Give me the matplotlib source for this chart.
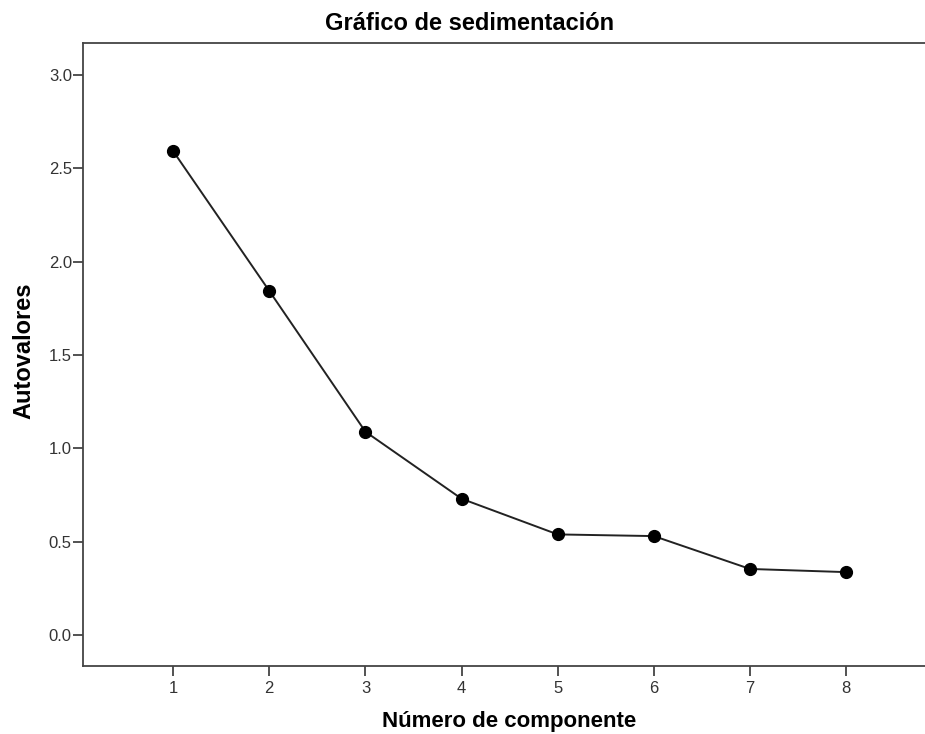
import matplotlib
matplotlib.use('agg')
from matplotlib import pyplot as plt

componentes = [1, 2, 3, 4, 5, 6, 7, 8]
autovalores = [2.592, 1.843, 1.089, 0.730, 0.539, 0.530, 0.354, 0.337]
yticks = [0.0, 0.5, 1.0, 1.5, 2.0, 2.5, 3.0]

plt.rcParams['font.family'] = ['Liberation Sans', 'DejaVu Sans']

fig = plt.figure(figsize=(9.25, 7.34), dpi=100)
ax = fig.add_axes([0.0897, 0.0931, 0.9103, 0.8483])

ax.plot(componentes, autovalores, color='#222222', lw=1.4,
        marker='o', markersize=8.5, markerfacecolor='black', markeredgecolor='black')

ax.set_xlim(0.062, 8.82)
ax.set_ylim(-0.164, 3.171)
ax.set_xticks(componentes)
ax.set_yticks(yticks)
ax.set_yticklabels(["%.1f" % v for v in yticks])

for side in ['left', 'bottom', 'top']:
    ax.spines[side].set_color('#444444')
    ax.spines[side].set_linewidth(1.3)
ax.spines['right'].set_visible(False)
ax.tick_params(direction='out', length=7, width=1.3, color='#444444',
               labelsize=12, labelcolor='#333333')
ax.tick_params(axis='y', pad=1)
ax.tick_params(axis='x', pad=4)

fig.text(470 / 925, 1 - 24 / 734, "Gráfico de sedimentación", fontsize=17,
         fontweight='bold', ha='center', va='center')
ax.set_xlabel("Número de componente", fontsize=16, fontweight='bold', va='center')
ax.xaxis.set_label_coords(0.506, -0.09)
ax.set_ylabel("Autovalores", fontsize=17, fontweight='bold', va='center')
ax.yaxis.set_label_coords(-0.070, 0.506)

fig.savefig("out.png", dpi=100)
